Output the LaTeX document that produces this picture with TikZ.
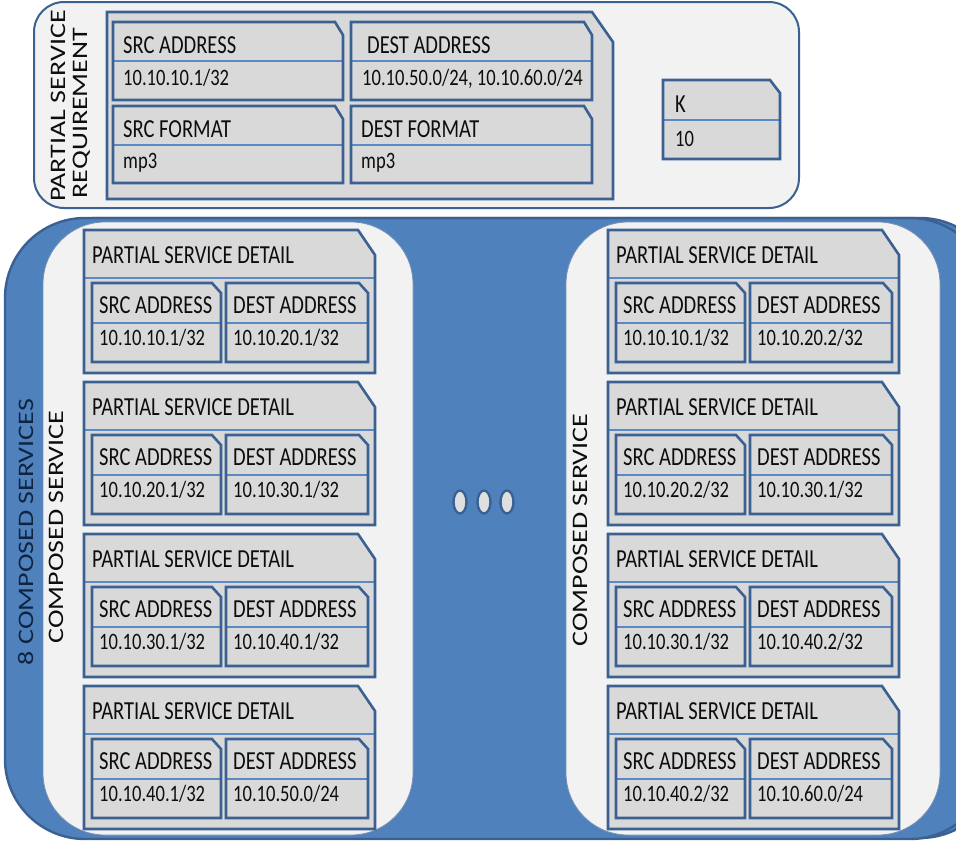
\documentclass[tikz,border=0pt]{standalone}
\usepackage{graphicx}
\usepackage{fontspec}
\setmainfont{Carlito}
\newfontfamily\cardfont[FakeStretch=0.79]{Carlito}

\definecolor{bluefill}{HTML}{4F81BD}
\definecolor{edgeblue}{HTML}{3B6192}
\definecolor{divblue}{HTML}{5A8AC6}
\definecolor{cardgray}{HTML}{D9D9D9}
\definecolor{panelgray}{HTML}{F2F2F2}
\definecolor{ink}{HTML}{0D0D0D}
\definecolor{navy}{HTML}{0F2440}

\tikzset{
  cardedge/.style={draw=edgeblue, line width=2.6pt, line join=miter},
  divline/.style={draw=divblue, line width=1.3pt},
  hdr/.style={anchor=base west, inner sep=0pt, text=ink,
    font=\cardfont\fontsize{26}{30}\selectfont},
  val/.style={anchor=base west, inner sep=0pt, text=ink,
    font=\cardfont\fontsize{23.5}{28}\selectfont},
  vert/.style={anchor=base, inner sep=0pt, rotate=90,
    font=\fontsize{28}{32}\selectfont},
  panel/.style={fill=panelgray, draw=edgeblue!70, line width=0.8pt},
  blueshape/.style={fill=bluefill, draw=edgeblue, line width=2.4pt},
  dotshape/.style={fill=cardgray!85!white, draw=edgeblue, line width=2.4pt},
}

% card with a clipped top-right corner and a header divider
% #1,#2 top-left  #3,#4 bottom-right  #5,#6 corner cut  #7 divider y
\newcommand\card[7]{%
  \fill[cardgray] (#1,#2) -- ({#3-#5},#2) -- (#3,{#2+#6}) -- (#3,#4) -- (#1,#4) -- cycle;
  \draw[divline] (#1,#7) -- (#3,#7);
  \draw[cardedge] (#1,#2) -- ({#3-#5},#2) -- (#3,{#2+#6}) -- (#3,#4) -- (#1,#4) -- cycle;
}

% one "partial service detail" block
% #1 name  #2 x offset  #3 top  #4 source address  #5 destination address
\newcommand\detail[5]{%
  \card{84+#2}{#3}{375+#2}{#3+143}{17}{25}{#3+48}
  \card{92+#2}{#3+53}{221+#2}{#3+132}{9}{10}{#3+93}
  \card{226+#2}{#3+53}{368+#2}{#3+132}{9}{10}{#3+93}
  \node[hdr] (#1-title) at ({92+#2},{#3+33}) {PARTIAL SERVICE DETAIL};
  \node[hdr] (#1-srch) at ({99+#2},{#3+83}) {SRC ADDRESS};
  \node[val] (#1-srcv) at ({99+#2},{#3+115}) {#4};
  \node[hdr] (#1-dsth) at ({233+#2},{#3+83}) {DEST ADDRESS};
  \node[val] (#1-dstv) at ({233+#2},{#3+115}) {#5};
}

\begin{document}
\begin{tikzpicture}[x=1pt, y=-1pt]
  \useasboundingbox (0,0) rectangle (956,841);
  \begin{scope}
    \clip (0,0) rectangle (956,841);

    % blue frame holding the composed services
    \path[blueshape, rounded corners=80pt] (17,218) rectangle (1000,838);
    \path[blueshape, rounded corners=80pt] (5,218) rectangle (990,839);

    % the two composed-service panels
    \path[panel, rounded corners=62pt] (43,222) rectangle (413,835);
    \path[panel, rounded corners=62pt] (566,222) rectangle (940,835);

    \detail{l1}{0}{230}{10.10.10.1/32}{10.10.20.1/32}
    \detail{l2}{0}{382}{10.10.20.1/32}{10.10.30.1/32}
    \detail{l3}{0}{534}{10.10.30.1/32}{10.10.40.1/32}
    \detail{l4}{0}{686}{10.10.40.1/32}{10.10.50.0/24}

    \detail{r1}{524}{230}{10.10.10.1/32}{10.10.20.2/32}
    \detail{r2}{524}{382}{10.10.20.2/32}{10.10.30.1/32}
    \detail{r3}{524}{534}{10.10.30.1/32}{10.10.40.2/32}
    \detail{r4}{524}{686}{10.10.40.2/32}{10.10.60.0/24}

    \node[vert, text=navy] (all) at (33,532) {\scalebox{1}[0.79]{8 COMPOSED SERVICES}};
    \node[vert, text=ink] (csl) at (63,527) {\scalebox{1}[0.79]{COMPOSED SERVICE}};
    \node[vert, text=ink] (csr) at (587,530) {\scalebox{1}[0.79]{COMPOSED SERVICE}};

    % ellipsis between the panels
    \draw[dotshape] (460,502) ellipse [x radius=6.5, y radius=11.5];
    \draw[dotshape] (484,502) ellipse [x radius=6.5, y radius=11.5];
    \draw[dotshape] (507,502) ellipse [x radius=6.5, y radius=11.5];

    % partial service requirement
    \path[fill=panelgray, draw=edgeblue, line width=2pt, rounded corners=30pt]
      (34,2) rectangle (799,208);
    \fill[cardgray] (107,12) -- (592,12) -- (613,42) -- (613,199) -- (107,199) -- cycle;
    \draw[cardedge] (107,12) -- (592,12) -- (613,42) -- (613,199) -- (107,199) -- cycle;

    \card{113}{22}{343}{100}{8}{13}{61}
    \card{351}{22}{592}{100}{8}{13}{61}
    \card{113}{106}{343}{183}{8}{13}{145}
    \card{351}{106}{592}{183}{8}{13}{145}
    \card{663}{80}{780}{159}{10}{13}{120}

    \node[hdr] (srca) at (123,53) {SRC ADDRESS};
    \node[val] (srcav) at (123,85) {10.10.10.1/32};
    \node[hdr] (dsta) at (367,53) {DEST ADDRESS};
    \node[val] (dstav) at (362,85) {10.10.50.0/24, 10.10.60.0/24};
    \node[hdr] (srcf) at (123,137) {SRC FORMAT};
    \node[val] (srcfv) at (123,168) {mp3};
    \node[hdr] (dstf) at (361,137) {DEST FORMAT};
    \node[val] (dstfv) at (361,168) {mp3};
    \node[hdr] (k) at (675,112) {K};
    \node[val] (kv) at (675,146) {10};

    \node[vert, text=ink] (req1) at (65,106) {\scalebox{1}[0.79]{PARTIAL SERVICE}};
    \node[vert, text=ink] (req2) at (87,113) {\scalebox{1}[0.79]{REQUIREMENT}};
  \end{scope}
\end{tikzpicture}
\end{document}
